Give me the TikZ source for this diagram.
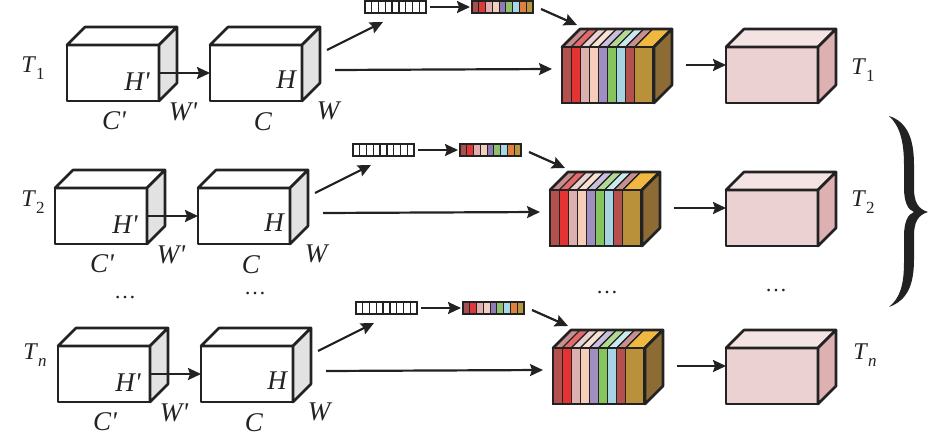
\documentclass[tikz,border=0pt]{standalone}
\usepackage{fontspec}
\setmainfont{Liberation Serif}
\usetikzlibrary{calc,arrows.meta}
\definecolor{ink}{HTML}{222222}
\definecolor{boxside}{HTML}{E2E2E2}
\definecolor{pinkF}{HTML}{EBD1D2}
\definecolor{pinkT}{HTML}{F3E3E3}
\definecolor{pinkS}{HTML}{DDB0B2}
% stripe colours (front / top)
\definecolor{sA}{HTML}{B4504E}\definecolor{tA}{HTML}{C98E8E}
\definecolor{sB}{HTML}{E53232}\definecolor{tB}{HTML}{E26A6A}
\definecolor{sC}{HTML}{DDB0B0}\definecolor{tC}{HTML}{EAD2D2}
\definecolor{sD}{HTML}{F6CDB8}\definecolor{tD}{HTML}{F9E2D4}
\definecolor{sE}{HTML}{A08EC0}\definecolor{tE}{HTML}{C9C0E0}
\definecolor{sF}{HTML}{86C45E}\definecolor{tF}{HTML}{B2D992}
\definecolor{sG}{HTML}{A6D4E2}\definecolor{tG}{HTML}{CBE8F0}
\definecolor{sH}{HTML}{B8913A}\definecolor{tH}{HTML}{F0B840}
\definecolor{sSide}{HTML}{8C6B35}
% small coloured vector
\definecolor{vA}{HTML}{A85050}
\definecolor{vB}{HTML}{E03838}
\definecolor{vC}{HTML}{E0B0B0}
\definecolor{vD}{HTML}{F2D0C0}
\definecolor{vE}{HTML}{8E7AB5}
\definecolor{vF}{HTML}{8EC06E}
\definecolor{vG}{HTML}{A8D8E8}
\definecolor{vH}{HTML}{E0803A}
\definecolor{vI}{HTML}{B8963E}

\tikzset{
 face/.style={draw=ink, line width=2.6pt, line join=round},
 front/.style={face, rectangle, minimum width=92pt, minimum height=56pt,
   inner sep=0pt, outer sep=0pt, anchor=north west},
 arr/.style={line width=2.2pt, draw=ink, -{Stealth[length=13pt,width=12pt,inset=2pt]}},
 vec/.style={draw=ink, line width=1.8pt, rectangle, minimum width=61pt,
   minimum height=12pt, inner sep=0pt, outer sep=0pt, anchor=west},
 lbl/.style={font=\fontsize{27}{27}\selectfont\itshape, inner sep=0pt, text=ink},
 tl/.style={font=\fontsize{24}{24}\selectfont, inner sep=0pt, text=ink},
 dts/.style={font=\fontsize{22}{22}\selectfont, inner sep=0pt, text=ink},
}
\newcommand\subs[1]{\raisebox{-7pt}{\fontsize{17}{17}\selectfont #1}}

\newcommand\cubefaces[3]{%
 \filldraw[face, fill=#2] (#1.north west) -- ++(18,-18) -- ++(92,0) -- (#1.north east) -- cycle;
 \filldraw[face, fill=#3] (#1.north east) -- ++(18,-18) -- ++(0,56) -- (#1.south east) -- cycle;
}

\newcommand\makerow[3]{%
 \pgfmathsetmacro\Ax{#2-143}
 \pgfmathsetmacro\Sy{#3+2}
 \pgfmathsetmacro\Sx{#2+352}
 \pgfmathsetmacro\Wx{#2+155}
 \pgfmathsetmacro\Vx{#2+262}
 \pgfmathsetmacro\Wy{#3-38}
 % first box
 \node[front, fill=white] (a#1) at (\Ax,#3) {};
 \cubefaces{a#1}{white}{boxside}
 % second box
 \node[front, fill=white] (b#1) at (#2,#3) {};
 \cubefaces{b#1}{white}{boxside}
 % labels
 \node[lbl] (hp#1) at ($(a#1.north west)+(70,37)$) {H\textquotesingle};
 \node[lbl] (cp#1) at ($(a#1.north west)+(47,76)$) {C\textquotesingle};
 \node[lbl] (wp#1) at ($(a#1.north west)+(116,67)$) {W\textquotesingle};
 \node[lbl] (h#1) at ($(b#1.north west)+(76,35)$) {H};
 \node[lbl] (c#1) at ($(b#1.north west)+(53,77)$) {C};
 \node[lbl] (w#1) at ($(b#1.north west)+(118,66)$) {W};
 % white vector
 \foreach \k in {0,...,8}
   \draw[ink, fill=white, line width=1.3pt] ({\Wx+\k*6.78},{\Wy-6}) rectangle ++(6.78,12);
 \node[vec] (wv#1) at (\Wx,\Wy) {};
 % coloured vector
 \foreach \col [count=\i from 0] in {vA,vB,vC,vD,vE,vF,vG,vH,vI}
   \filldraw[fill=\col, draw=ink, line width=0.9pt] ({\Vx+\i*6.78},{\Wy-6}) rectangle ++(6.78,12);
 \node[vec] (cv#1) at (\Vx,\Wy) {};
 % striped cube
 \foreach \f/\t [count=\i from 0] in {sA/tA,sB/tB,sC/tC,sD/tD,sE/tE,sF/tF,sG/tG,sA/tA} {
   \filldraw[fill=\f, draw=ink, line width=1.2pt] ({\Sx+\i*9.1},\Sy) rectangle ++(9.1,56);
   \filldraw[fill=\t, draw=ink, line width=1.2pt] ({\Sx+\i*9.1},\Sy) -- ++(18,-18) -- ++(9.1,0) -- ++(-18,18) -- cycle;
 }
 \filldraw[fill=sH, draw=ink, line width=1.2pt] ({\Sx+72.8},\Sy) rectangle ++(18.2,56);
 \filldraw[fill=tH, draw=ink, line width=1.2pt] ({\Sx+72.8},\Sy) -- ++(18,-18) -- ++(18.2,0) -- ++(-18,18) -- cycle;
 \node[front] (sc#1) at (\Sx,\Sy) {};
 \draw[face] (sc#1.north west) -- ++(18,-18) -- ++(92,0) -- (sc#1.north east);
 \filldraw[face, fill=sSide] (sc#1.north east) -- ++(18,-18) -- ++(0,56) -- (sc#1.south east) -- cycle;
 % pink cube
 \node[front, fill=pinkF] (p#1) at (726,\Sy) {};
 \cubefaces{p#1}{pinkT}{pinkS}
 % connectors
 \draw[arr] (a#1.east) -- (b#1.west);
 \draw[arr] ($(b#1.north east)+(25,5)$) -- ($(wv#1.south west)+(18,9)$);
 \draw[arr] ($(wv#1.east)+(4,0)$) -- ($(cv#1.west)+(-2,0)$);
 \draw[arr] ($(cv#1.east)+(8,2)$) -- ($(sc#1.north west)+(15,-22)$);
 \draw[arr] ($(b#1.east)+(33,-3)$) -- ($(sc#1.west)+(-10,-6)$);
 \draw[arr] ($(sc#1.east)+(32,-10)$) -- ($(p#1.west)+(0,-10)$);
}

\begin{document}
\begin{tikzpicture}[x=1pt,y=-1pt]
\useasboundingbox (0,0) rectangle (945,444);

\makerow{1}{210}{45}
\makerow{2}{198}{188}
\makerow{3}{201}{346}

% left labels
\node[tl] (tl1) at (33,68) {\textit{T}\subs{1}};
\node[tl] (tl2) at (33,202) {\textit{T}\subs{2}};
\node[tl] (tl3) at (35,355) {\textit{T}\subs{\itshape n}};
% right labels
\node[tl] (tr1) at (863,70) {\textit{T}\subs{1}};
\node[tl] (tr2) at (863,202) {\textit{T}\subs{2}};
\node[tl] (tr3) at (865,355) {\textit{T}\subs{\itshape n}};

% dots
\node[dts] (d1) at (125,298) {…};
\node[dts] (d2) at (255,294) {…};
\node[dts] (d3) at (607,293) {…};
\node[dts] (d4) at (776,291) {…};

% brace
\fill[ink] (889,116) .. controls (908,122) and (914,140) .. (914,165)
  -- (914,188) .. controls (914,202) and (918,209) .. (928,212)
  .. controls (918,215) and (914,222) .. (914,236)
  -- (914,259) .. controls (914,284) and (908,300) .. (889,307)
  .. controls (900,298) and (904,285) .. (904,262)
  -- (904,236) .. controls (904,222) and (908,214) .. (914,212)
  .. controls (908,210) and (904,202) .. (904,188)
  -- (904,165) .. controls (904,142) and (900,126) .. (889,116) -- cycle;
\end{tikzpicture}
\end{document}
